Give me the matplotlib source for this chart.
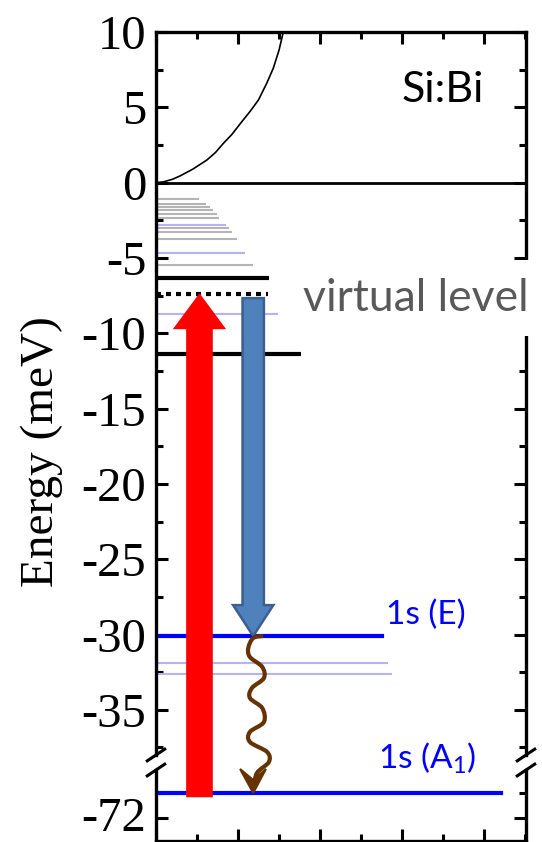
import numpy as np
import matplotlib
matplotlib.use("Agg")
import matplotlib.pyplot as plt
import matplotlib.transforms as mtransforms
from matplotlib.patches import FancyArrow, Polygon, Rectangle, PathPatch
from matplotlib.path import Path
from matplotlib.ticker import MultipleLocator

plt.rcParams["axes.unicode_minus"] = False
plt.rcParams["mathtext.default"] = "regular"

# conduction band edge (meV vs arbitrary k)
band_x = [0.0, 0.18, 0.4, 0.59, 0.9, 1.24, 1.45, 1.64, 1.85, 2.05, 2.3, 2.5,
          2.7, 2.86, 3.0, 3.12]
band_e = [0.0, 0.05, 0.22, 0.45, 0.9, 1.5, 2.0, 2.6, 3.2, 3.9, 4.75, 5.5,
          6.6, 7.6, 8.8, 10.2]

# shallow excited donor states
excited_e = [-1.09, -1.42, -1.62, -1.82, -2.09, -2.33, -3.03, -3.26, -3.76, -5.47]
excited_len = [1.06, 1.21, 1.32, 1.40, 1.49, 1.54, 1.79, 1.85, 1.97, 2.36]
odd_e = [-2.82, -4.65, -8.73, -31.92, -32.63]
odd_len = [1.71, 2.18, 2.98, 5.66, 5.76]
p_states_e = [-6.34, -11.39]
p_states_len = [2.76, 3.54]
virtual_e, virtual_len = -7.41, 2.72
e_1sE, len_1sE = -30.1, 5.5
e_1sA, len_1sA = -71.0, 8.41

# excitation / Raman photons
pump_x, pump_bottom, pump_tip = 1.06, -71.17, -7.34
stokes_x, stokes_top = 2.37, -7.67

# phonon squiggle: fraction along path, x offset
wave_t = [0.0, 0.013, 0.076, 0.134, 0.197, 0.268, 0.331, 0.395, 0.459,
          0.548, 0.611, 0.675, 0.739, 0.803, 0.873, 0.97]
wave_dx = [0.24, 0.0, -0.12, -0.08, 0.22, 0.26, -0.03, -0.08, 0.22,
           0.26, -0.08, -0.08, 0.34, 0.38, 0.09, 0.01]

W, H = 542, 842
fig = plt.figure(figsize=(W / 100, H / 100), dpi=100)
left, width = 156 / W, 370 / W
ax2 = fig.add_axes([left, 1 / H, width, 71 / H])
ax1 = fig.add_axes([left, 1 - 755 / H, width, 723 / H])
for ax in (ax1, ax2):
    ax.set_facecolor("none")
    ax.set_xlim(0, 9.02)
    for s in ax.spines.values():
        s.set_linewidth(2.4)
    ax.tick_params(which="both", direction="in", width=2.2, left=True, right=True,
                   labelsize=35, pad=7)
    ax.tick_params(which="major", length=8.5)
    ax.tick_params(which="minor", length=5)
    ax.xaxis.set_major_locator(MultipleLocator(2))
    ax.xaxis.set_minor_locator(MultipleLocator(1))

ax1.set_ylim(-38, 10)
ax1.yaxis.set_major_locator(MultipleLocator(5))
ax1.yaxis.set_minor_locator(MultipleLocator(2.5))
ax1.spines["bottom"].set_visible(False)
ax1.tick_params(which="both", top=True, bottom=False, labelbottom=False)

ax2.set_ylim(-72.92, -70.08)
ax2.yaxis.set_major_locator(MultipleLocator(2))
ax2.yaxis.set_minor_locator(MultipleLocator(1))
ax2.spines["top"].set_visible(False)
ax2.tick_params(which="both", top=False, bottom=True, labelbottom=False)

for ax in (ax1, ax2):
    for lab in ax.get_yticklabels():
        lab.set_fontfamily("Liberation Serif")
# nudge the lone lower-panel label up a touch
shift = mtransforms.ScaledTranslation(0, 4 / 100, fig.dpi_scale_trans)
for lab in ax2.get_yticklabels():
    lab.set_transform(lab.get_transform() + shift)

# axis break marks
kw = dict(color="k", lw=2.2, clip_on=False, solid_capstyle="butt")
dx = 10 / 370
ax1.plot([-dx, dx], [-6.7 / 723, 6.7 / 723], transform=ax1.transAxes, **kw)
ax1.plot([1 - dx, 1 + dx], [-6.7 / 723, 6.7 / 723], transform=ax1.transAxes, **kw)
ax2.plot([-dx, dx], [1 - 6.7 / 71, 1 + 6.7 / 71], transform=ax2.transAxes, **kw)
ax2.plot([1 - dx, 1 + dx], [1 - 6.7 / 71, 1 + 6.7 / 71], transform=ax2.transAxes, **kw)

fig.text(42 / W, 1 - 452 / H, "Energy (meV)", rotation=90, ha="center", va="center",
         fontsize=34, fontfamily="Liberation Serif")

# band and levels
ax1.plot(band_x, band_e, color="k", lw=1.2)
ax1.axhline(0, color="k", lw=2)
for e, l in zip(excited_e, excited_len):
    ax1.plot([0, l], [e, e], color="#b4b4b4", lw=1.5, solid_capstyle="butt")
for e, l in zip(odd_e, odd_len):
    ax1.plot([0, l], [e, e], color="#b4b4f5", lw=1.5, solid_capstyle="butt")
for e, l in zip(p_states_e, p_states_len):
    ax1.plot([0, l], [e, e], color="k", lw=3, solid_capstyle="butt")
ax1.plot([0, virtual_len], [virtual_e, virtual_e], color="k", lw=3,
         linestyle=(0, (1.2, 1.2)), dash_capstyle="butt")
ax1.plot([0, len_1sE], [e_1sE, e_1sE], color="#0000ff", lw=3)
ax2.plot([0, len_1sA], [e_1sA, e_1sA], color="#0000ff", lw=3)

# white box for the label across the right spine
ax1.add_patch(Rectangle((3.6, -10.2), 6.0, 5.05, fc="white", ec="none",
                        zorder=2.6, clip_on=False))
ax1.text(3.59, -7.66, "virtual level", color="#595959", fontsize=32,
         fontfamily="Lato", ha="left", va="center", zorder=3, clip_on=False)
ax1.text(6.98, 6.15, "Si:Bi", color="k", fontsize=31, fontfamily="Lato",
         ha="center", va="center")
ax1.text(5.6, -28.7, "1s (E)", color="#0000ff", fontsize=24, fontfamily="Lato",
         ha="left", va="center")


def to_ax1(x, e, ax):
    disp = ax.transData.transform((x, e))
    return ax1.transData.inverted().transform(disp)


# pump arrow from 1s(A1) up to the virtual level
_, y0 = to_ax1(pump_x, pump_bottom, ax2)
ax1.add_patch(FancyArrow(pump_x, y0, 0, pump_tip - y0, width=0.65, head_width=1.3,
                         head_length=2.39, length_includes_head=True,
                         fc="#ff0000", ec="none", clip_on=False, zorder=4))

# scattered photon down to 1s(E)
ax1.add_patch(FancyArrow(stokes_x, stokes_top, 0, e_1sE - stokes_top, width=0.52,
                         head_width=0.98, head_length=2.05, length_includes_head=True,
                         fc="#4f81bd", ec="#3b5f8e", lw=1.8, zorder=4))

_, y_end = to_ax1(stokes_x, e_1sA, ax2)
ax1.text(5.41, -38.2, "1s (A$_1$)", color="#0000ff", fontsize=24, fontfamily="Lato",
         ha="left", va="center", clip_on=False)

# phonon squiggle from 1s(E) to 1s(A1)
t = np.array(wave_t)
px = stokes_x + np.array(wave_dx)
py = e_1sE + t * (y_end - e_1sE)
pts = np.column_stack([px, py])
ext = np.vstack([pts[0], pts, pts[-1]])
verts = [tuple(pts[0])]
codes = [Path.MOVETO]
for i in range(1, len(ext) - 2):
    p0, p1, p2, p3 = ext[i - 1], ext[i], ext[i + 1], ext[i + 2]
    verts += [tuple(p1 + (p2 - p0) / 6), tuple(p2 - (p3 - p1) / 6), tuple(p2)]
    codes += [Path.CURVE4] * 3
ax1.add_patch(PathPatch(Path(verts, codes), fc="none", ec="#663300", lw=3,
                        clip_on=False, zorder=5))
hp = 1 / 15.06
ax1.add_patch(Polygon([(stokes_x - 0.32, y_end + 24 * hp), (stokes_x, y_end),
                       (stokes_x + 0.31, y_end + 24 * hp), (stokes_x, y_end + 13 * hp)],
                      closed=True, fc="#663300", ec="#663300", lw=1.5,
                      clip_on=False, zorder=5))

fig.savefig("out.png", dpi=100)
